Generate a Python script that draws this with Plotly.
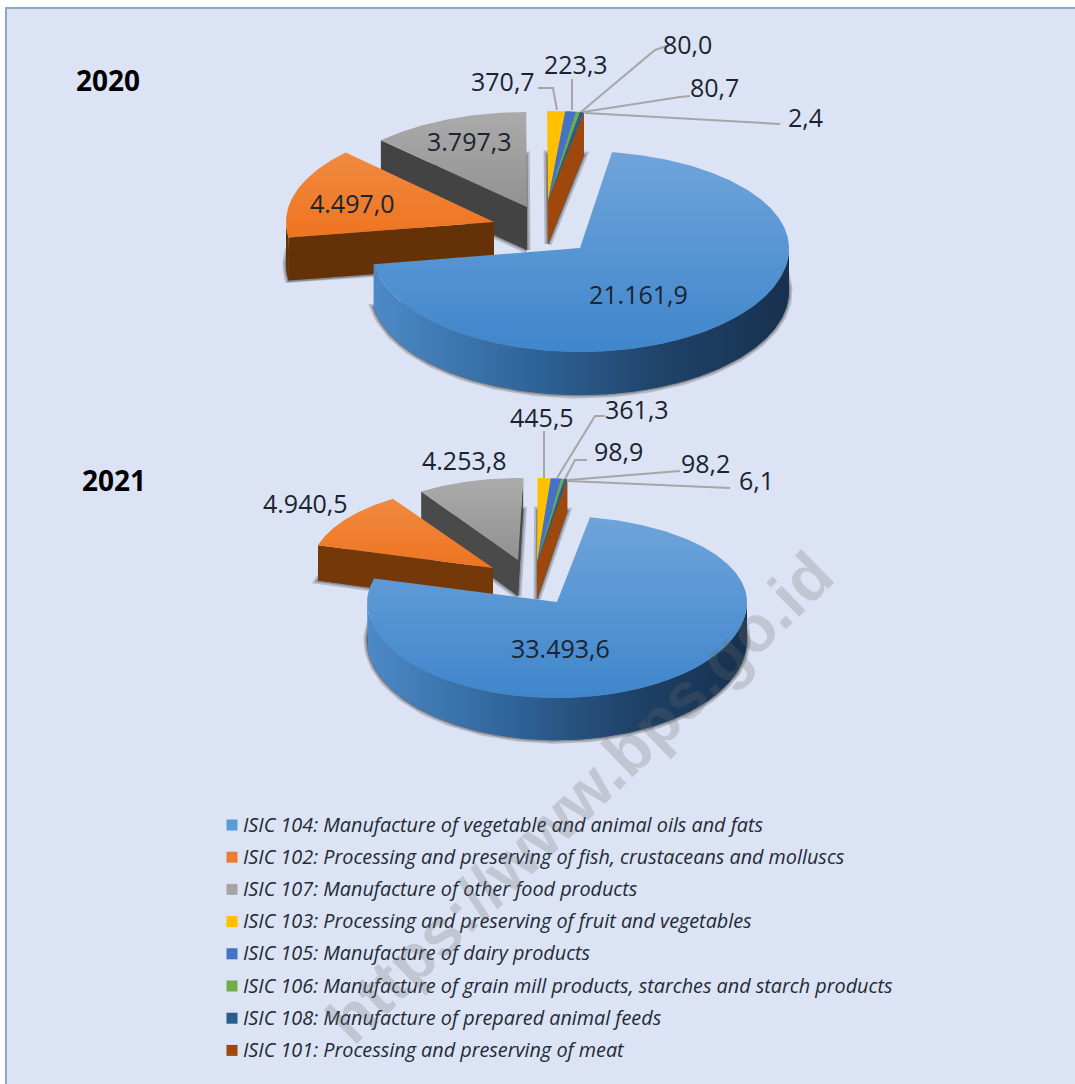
import math
import plotly.graph_objects as go

categories = [
    "ISIC 104: Manufacture of vegetable and animal oils and fats",
    "ISIC 102: Processing and preserving of fish, crustaceans and molluscs",
    "ISIC 107: Manufacture of other food products",
    "ISIC 103: Processing and preserving of fruit and vegetables",
    "ISIC 105: Manufacture of dairy products",
    "ISIC 106: Manufacture of grain mill products, starches and starch products",
    "ISIC 108: Manufacture of prepared animal feeds",
    "ISIC 101: Processing and preserving of meat",
]
values_2020 = [21161.9, 4497.0, 3797.3, 370.7, 223.3, 80.0, 80.7, 2.4]
values_2021 = [33493.6, 4940.5, 4253.8, 445.5, 361.3, 98.9, 98.2, 6.1]
colors = ["#5B9BD5", "#ED7D31", "#A5A5A5", "#FFC000", "#4472C4", "#70AD47", "#255E91", "#9E480E"]
wall_colors = ["#2C5F96", "#653208", "#434343", "#BF9000", "#2F5597", "#4E7A31", "#1A4266", "#9E480E"]
top_grad = {
    0: ["#3F86CC", "#6FA4DA"],
    1: ["#EE7420", "#F08A40"],
    2: ["#919191", "#ABABAB"],
}
FONT = "Open Sans"
INK = "#1A2430"


def fmt(v):
    return f"{v:,.1f}".replace(",", "#").replace(".", ",").replace("#", ".")


def pt(ax, ay, g, deg):
    t = math.radians(deg)
    c = math.cos(t)
    return ax + g["rx"] * math.sin(t), ay - (g["ryb"] if c > 0 else g["ryf"]) * c


def arc(ax, ay, g, a, b):
    n = max(2, int(abs(b - a) * 1.5))
    return [pt(ax, ay, g, a + (b - a) * i / n) for i in range(n + 1)]


fig = go.Figure()


def poly(points, color=None, grad=None, line=None, lw=0):
    xs = [p[0] for p in points] + [points[0][0]]
    ys = [p[1] for p in points] + [points[0][1]]
    kw = dict(x=xs, y=ys, mode="lines", fill="toself", hoverinfo="skip", showlegend=False,
              line=dict(width=lw, color=line or "rgba(0,0,0,0)"))
    if grad:
        kw["fillgradient"] = grad
    else:
        kw["fillcolor"] = color
    fig.add_trace(go.Scatter(**kw))


def draw_group(idx, vals, start, apex, g):
    """Draw the slices in idx (same exploded apex) from their share of the total."""
    total = sum(vals)
    ax, ay = apex
    depth = lambda y: g["d0"] + g["k"] * (y - g["dy"])
    walls = g.get("walls", {})
    angs = {}
    cur = start
    for i, v in enumerate(vals):
        angs[i] = (cur, cur + v / total * 360)
        cur += v / total * 360
    a0, b0 = angs[idx[0]][0], angs[idx[-1]][1]
    # soft shadow of the bottom face
    rim = arc(ax, ay, g, a0, b0)
    bottom = [(ax, ay + depth(ay))] + [(x, y + depth(y)) for x, y in rim]
    poly(bottom, "rgba(30,30,30,0.28)", line="rgba(30,30,30,0.22)", lw=7)
    poly(bottom, "rgba(30,30,30,0.35)", line="rgba(30,30,30,0.3)", lw=3)
    for i in idx:
        a, b = angs[i]
        wc = walls.get(i, wall_colors[i])
        if 180 < (a % 360) < 360:
            e = pt(ax, ay, g, a)
            poly([(ax, ay), e, (e[0], e[1] + depth(e[1])), (ax, ay + depth(ay))], wc)
        if 0 < (b % 360) < 180:
            e = pt(ax, ay, g, b)
            poly([(ax, ay), e, (e[0], e[1] + depth(e[1])), (ax, ay + depth(ay))], wc)
        lo, hi = max(a, 90), min(b, 270)
        if hi > lo:
            r = arc(ax, ay, g, lo, hi)
            shape = r + [(x, y + depth(y)) for x, y in reversed(r)]
            if i == 0:
                poly(shape, grad=dict(type="horizontal", colorscale=[
                    [0, "#4C8AC8"], [0.38, "#2F6498"], [0.7, "#1F4268"], [1, "#17314F"]]))
            else:
                poly(shape, wc)
    for i in idx:
        a, b = angs[i]
        face = [(ax, ay)] + arc(ax, ay, g, a, b)
        if i in top_grad:
            poly(face, grad=dict(type="vertical", colorscale=[[0, top_grad[i][0]], [1, top_grad[i][1]]]))
        else:
            poly(face, colors[i])


d2020 = dict(d0=43, k=0.0, dy=200)
d2021 = dict(d0=36, k=0.045, dy=560)

# --- 2020: back to front
draw_group([2], values_2020, 8.8, (527, 207), dict(d2020, rx=205, ryb=95, ryf=95))
draw_group([3, 4, 5, 6, 7], values_2020, 8.8, (548, 201), dict(d2020, rx=235, ryb=90, ryf=90))
draw_group([1], values_2020, 8.8, (494, 222), dict(d2020, rx=208, ryb=99, ryf=99))
draw_group([0], values_2020, 8.8, (580, 248), dict(d2020, rx=209, ryb=97, ryf=104))
# --- 2021
draw_group([2], values_2021, 10, (518, 560), dict(d2021, rx=176, ryb=82, ryf=82, walls={2: "#4A4A4A"}))
draw_group([3, 4, 5, 6, 7], values_2021, 8.5, (537, 563), dict(d2021, rx=205, ryb=85, ryf=85))
draw_group([1], values_2021, 10, (493, 568), dict(d2021, rx=182, ryb=83, ryf=83, walls={1: "#753808"}))
draw_group([0], values_2021, 10, (557, 602), dict(d2021, rx=190, ryb=86, ryf=96))

# leader lines
leaders = [
    [(538, 88), (553, 88), (557, 110)],
    [(572, 79), (572, 110)],
    [(670, 45), (655, 50), (581, 112)],
    [(690, 96), (680, 97), (583, 112)],
    [(780, 124), (585, 113)],
    [(544, 431), (544, 478)],
    [(605, 416), (595, 416), (557, 478)],
    [(587, 460), (575, 460), (565, 479)],
    [(680, 471), (568, 480)],
    [(730, 488), (568, 481)],
]
for seg in leaders:
    fig.add_trace(go.Scatter(x=[s[0] for s in seg], y=[s[1] for s in seg], mode="lines",
                             line=dict(color="#A6A6A6", width=2), hoverinfo="skip", showlegend=False))

# legend squares
legend_x, legend_y0, legend_dy = 232, 825, 32.2
fig.add_trace(go.Scatter(
    x=[legend_x] * len(categories), y=[legend_y0 + legend_dy * i for i in range(len(categories))],
    mode="markers", marker=dict(symbol="square", size=11, color=colors), hoverinfo="skip", showlegend=False))

ann = []


def label(x, y, text, size=25, color=INK, **kw):
    ann.append(dict(x=x, y=y, xref="x", yref="y", text=text, showarrow=False,
                    font=dict(family=kw.pop("family", FONT), size=size, color=color), **kw))


label_pos_2020 = [(638, 294), (352, 203), (469, 141), (503, 81), (576, 64), (687, 44), (714, 87), (805, 117)]
label_pos_2021 = [(560, 648), (305, 503), (464, 460), (542, 417), (637, 409), (618, 451), (705, 463), (756, 480)]
for v, (x, y) in zip(values_2020, label_pos_2020):
    label(x, y, fmt(v))
for v, (x, y) in zip(values_2021, label_pos_2021):
    label(x, y, fmt(v))
label(108, 80, "<b>2020</b>", size=28, color="#000000")
label(114, 480, "<b>2021</b>", size=28, color="#000000")
for i, c in enumerate(categories):
    label(241, legend_y0 - 1 + legend_dy * i, "<i>" + c + "</i>", size=19.8, xanchor="left", color="#222A35")
label(579, 797, "<b>https://www.bps.go.id</b>", size=65, color="rgba(110,110,110,0.24)",
      textangle=-44, family="Liberation Sans")

fig.update_layout(
    width=1075, height=1084, margin=dict(l=0, r=0, t=0, b=0),
    paper_bgcolor="#FFFFFF", plot_bgcolor="#FFFFFF", showlegend=False, annotations=ann,
    xaxis=dict(range=[0, 1075], visible=False, fixedrange=True),
    yaxis=dict(range=[1084, 0], visible=False, fixedrange=True),
    shapes=[dict(type="rect", xref="x", yref="y", x0=6, y0=8, x1=1090, y1=1095,
                 fillcolor="#DCE3F4", line=dict(color="#8FA5D0", width=2), layer="below")],
)
fig.write_html("out.html", config={"displayModeBar": False},
               post_script="document.body.style.margin='0';document.documentElement.style.overflow='hidden';")
